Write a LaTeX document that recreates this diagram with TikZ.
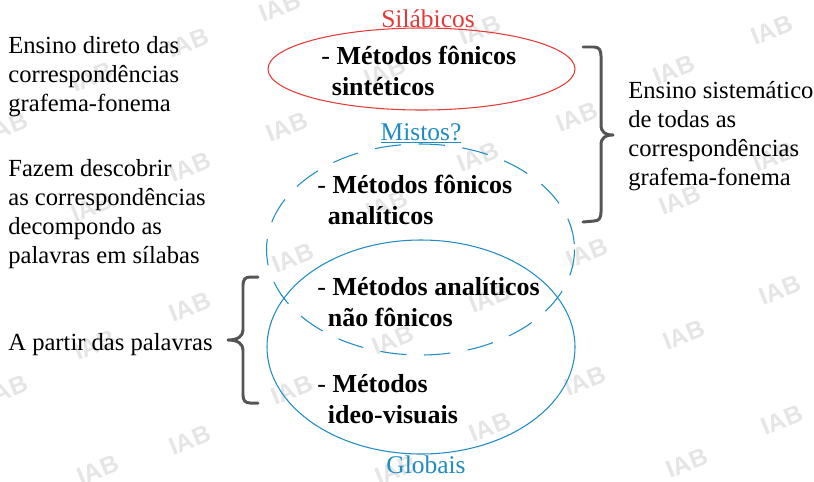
\documentclass[tikz,border=0pt]{standalone}
\usepackage{fontspec}
\setmainfont{Liberation Serif}
\newfontfamily\wmfont{Liberation Sans}
\definecolor{silred}{HTML}{E53935}
\definecolor{globblue}{HTML}{1E8BC3}
\definecolor{bracegray}{HTML}{555555}
\tikzset{
  plain/.style={anchor=base west, align=left, inner sep=0pt, font=\fontsize{14}{16.5}\selectfont},
  method/.style={anchor=base west, align=left, inner sep=0pt, font=\fontsize{14.8}{17.5}\selectfont\bfseries},
  tag/.style={anchor=base, inner sep=0pt, font=\fontsize{14.5}{16}\selectfont},
  wm/.style={text=gray!20, rotate=22, font=\wmfont\bfseries\fontsize{14}{14}\selectfont},
  brace/.style={bracegray, line width=1.7pt, line cap=round, line join=round},
  ring/.style={line width=0.6pt},
}
\begin{document}
\begin{tikzpicture}[x=0.02cm, y=-0.02cm]
\useasboundingbox (0,0) rectangle (814,481);

% watermark
\foreach \wx/\wy in {92/77, 92/207, 95/345, 98/470, 7/127, 7/390,
  188/43, 190/167, 190/307, 190/440, 280/7, 287/127, 293/258, 292/390,
  385/72, 387/205, 393/340, 396/470, 480/30, 478/157, 490/298, 490/427,
  577/117, 587/253, 585/381, 674/70, 680/200, 684/335, 687/463,
  772/30, 774/157, 780/290, 782/420}
  \node[wm] at (\wx,\wy) {IAB};

% sets
\draw[ring, silred] (421.5,69) ellipse [x radius=153.5, y radius=41];
\draw[ring, globblue, dash pattern=on 15 off 10] (420.5,249.5) ellipse [x radius=154, y radius=105.5];
\draw[ring, globblue] (421,347) ellipse [x radius=154, y radius=107];

\node[tag, text=silred] (silabicos) at (428,27) {Silábicos};
\node[tag, text=globblue] (mistos) at (421,140) {\underline{Mistos?}};
\node[tag, text=globblue] (globais) at (426,473) {Globais};

% base anchor = last line
\node[method] (sinteticos) at (321,95) {{\mdseries -} Métodos fônicos\\\hspace*{6pt}sintéticos};
\node[method] (fonanal) at (317,224) {{\mdseries -} Métodos fônicos\\\hspace*{6pt}analíticos};
\node[method] (naofon) at (317,326) {{\mdseries -} Métodos analíticos\\\hspace*{6pt}não fônicos};
\node[method] (ideo) at (317,423) {{\mdseries -} Métodos\\\hspace*{6pt}ideo-visuais};

% side texts
\node[plain] (direto) at (8,111) {Ensino direto das\\correspondências\\grafema-fonema};
\node[plain] (descobrir) at (8,263) {Fazem descobrir\\as correspondências\\decompondo as\\palavras em sílabas};
\node[plain] (partir) at (8,350) {A partir das palavras};
\node[plain] (sistematico) at (628,185) {Ensino sistemático\\de todas as\\correspondências\\grafema-fonema};

% braces
\coordinate (rbtop) at (583,47);
\coordinate (rbbot) at (583,222);
\coordinate (lbtop) at (258,277);
\coordinate (lbbot) at (258,403);
\draw[brace] (rbtop) -- ++(11,0) .. controls +(5,0) and +(0,-6) .. ++(7,9)
  -- ++(0,69) .. controls +(0,7) and +(-8,0) .. ++(12,10)
  .. controls +(-8,0) and +(0,-7) .. ++(-12,10) -- ++(0,67)
  .. controls +(0,6) and +(5,0) .. ++(-7,9) -- (rbbot);
\draw[brace] (lbtop) -- ++(-8,0) .. controls +(-5,0) and +(0,-5) .. ++(-7,8)
  -- ++(0,45) .. controls +(0,6) and +(10,0) .. ++(-15,10)
  .. controls +(10,0) and +(0,-6) .. ++(15,10) -- ++(0,45)
  .. controls +(0,5) and +(-5,0) .. ++(7,8) -- (lbbot);
\end{tikzpicture}
\end{document}
